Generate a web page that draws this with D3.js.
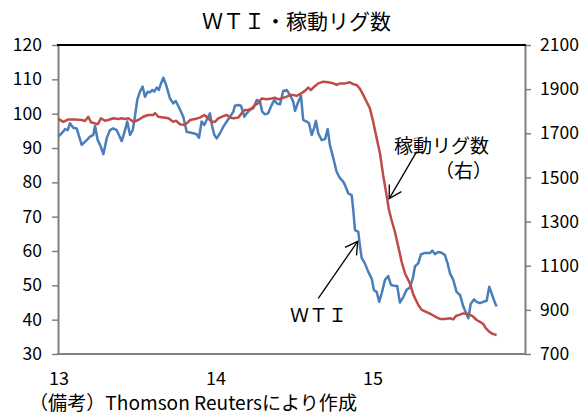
<!DOCTYPE html>
<html><head><meta charset="utf-8">
<script src="https://cdn.jsdelivr.net/npm/d3@7"></script>
<style>body{margin:0;background:#fff}</style>
</head><body>
<svg id="c" width="579" height="414"></svg>
<script>
const title = "ＷＴＩ・稼動リグ数";
const note = "（備考）Thomson Reutersにより作成";
const xTickValues = [13, 14, 15];
const xTickLabels = ["13", "14", "15"];
const leftTicks = [30, 40, 50, 60, 70, 80, 90, 100, 110, 120];
const rightTicks = [700, 900, 1100, 1300, 1500, 1700, 1900, 2100];
const wtiLabel = "ＷＴＩ";
const rigLabel1 = "稼動リグ数";
const rigLabel2 = "（右）";

// WTI (left axis), time in years (13 = 2013)
const wtiT = [13.002,13.024,13.045,13.062,13.076,13.097,13.119,13.151,13.183,13.204,
13.225,13.236,13.253,13.268,13.289,13.310,13.331,13.352,13.374,13.406,
13.427,13.441,13.459,13.476,13.490,13.505,13.522,13.539,13.554,13.571,
13.586,13.601,13.613,13.629,13.643,13.656,13.671,13.692,13.713,13.734,
13.750,13.771,13.798,13.820,13.841,13.862,13.883,13.898,13.915,13.932,
13.947,13.968,13.983,13.996,14.011,14.032,14.053,14.075,14.096,14.117,
14.127,14.148,14.166,14.187,14.202,14.223,14.244,14.266,14.287,14.301,
14.318,14.339,14.361,14.378,14.393,14.414,14.435,14.457,14.478,14.499,
14.510,14.527,14.548,14.562,14.584,14.599,14.616,14.631,14.643,14.658,
14.680,14.701,14.718,14.732,14.754,14.775,14.796,14.817,14.828,14.849,
14.871,14.881,14.892,14.913,14.924,14.935,14.955,14.976,14.998,15.013,
15.030,15.046,15.062,15.083,15.104,15.121,15.142,15.161,15.178,15.199,
15.221,15.242,15.261,15.274,15.295,15.312,15.333,15.355,15.369,15.385,
15.401,15.422,15.444,15.465,15.482,15.497,15.518,15.539,15.561,15.582,
15.599,15.614,15.629,15.650,15.667,15.688,15.709,15.731,15.747,15.762,
15.777,15.794];
const wtiV = [93.3,94.3,95.5,95.2,97.2,95.9,95.7,90.9,92.3,93.3,
93.8,96.4,92.3,90.9,88.2,92.8,95.2,95.7,95.2,92.0,
95.2,97.7,93.8,95.2,99.1,104.0,106.4,107.9,104.9,106.4,
106.2,106.9,106.4,107.6,106.9,108.8,110.5,107.9,104.5,103.0,
103.7,101.8,99.1,94.7,94.5,94.3,94.0,93.0,97.7,96.7,
98.2,100.1,96.2,93.8,92.8,94.3,96.2,97.7,99.1,100.6,
102.3,102.5,102.3,99.1,100.1,101.1,101.6,104.0,103.5,100.6,
99.8,100.1,102.5,104.0,103.0,102.7,106.6,106.9,105.4,103.5,
100.8,103.0,105.2,98.2,97.7,97.2,93.8,95.7,97.9,94.3,
92.3,92.6,95.5,90.9,87.0,83.1,81.2,80.2,79.2,76.8,
76.3,71.9,66.1,65.6,61.3,57.9,56.4,54.0,52.0,48.6,
48.1,45.2,47.7,51.6,52.7,50.1,49.9,49.8,45.0,46.5,
48.7,49.4,52.2,55.5,56.4,59.0,59.4,59.4,59.4,60.1,
59.1,59.7,59.5,58.8,56.4,53.5,51.6,48.1,47.2,43.8,
42.0,40.4,44.6,45.9,45.2,44.8,45.2,45.5,49.6,47.7,
45.7,43.8];

// Rig count (right axis)
const rigT = [13.002,13.034,13.066,13.108,13.151,13.172,13.193,13.210,13.236,13.253,
13.274,13.299,13.320,13.352,13.384,13.406,13.427,13.448,13.480,13.511,
13.543,13.575,13.607,13.618,13.639,13.671,13.703,13.734,13.752,13.777,
13.798,13.820,13.841,13.873,13.904,13.932,13.957,13.979,14.000,14.021,
14.053,14.075,14.096,14.117,14.148,14.170,14.191,14.212,14.234,14.255,
14.276,14.297,14.329,14.361,14.382,14.403,14.425,14.457,14.478,14.499,
14.520,14.541,14.573,14.594,14.611,14.632,14.658,14.690,14.722,14.754,
14.775,14.796,14.828,14.860,14.881,14.903,14.924,14.945,14.966,14.987,
15.008,15.030,15.051,15.072,15.094,15.108,15.125,15.146,15.168,15.189,
15.210,15.242,15.263,15.295,15.317,15.348,15.380,15.412,15.433,15.465,
15.497,15.518,15.535,15.556,15.582,15.614,15.641,15.667,15.688,15.709,
15.726,15.747,15.769,15.794];
const rigV = [1765,1752,1763,1763,1760,1756,1775,1750,1745,1741,
1768,1757,1760,1768,1765,1768,1765,1768,1752,1760,
1775,1783,1783,1791,1775,1772,1768,1752,1757,1741,
1738,1745,1760,1765,1771,1783,1768,1752,1752,1768,
1778,1783,1771,1768,1771,1791,1806,1806,1813,1828,
1836,1858,1854,1858,1861,1854,1858,1866,1873,1873,
1870,1877,1892,1907,1896,1911,1926,1934,1931,1926,
1919,1926,1926,1931,1922,1919,1901,1873,1843,1813,
1752,1677,1610,1507,1416,1355,1307,1254,1186,1118,
1066,1020,970,922,900,890,879,866,859,859,
862,857,872,877,884,881,872,854,846,836,
816,801,791,786];

const FONT = "'Noto Sans CJK JP','Noto Sans',sans-serif";
const svg = d3.select("#c");
const L = 58, R = 525, T = 45, B = 354;

const x = d3.scaleLinear().domain([13, 15.975]).range([L, R]);
const yL = d3.scaleLinear().domain([30, 120]).range([B, T]);
const yR = d3.scaleLinear().domain([700, 2100]).range([B, T]);

// Axes
const gL = svg.append("g").attr("transform", `translate(${L},0)`)
  .call(d3.axisLeft(yL).tickValues(leftTicks).tickFormat(d3.format("d"))
    .tickSize(6).tickSizeOuter(0).tickPadding(10));
const gR = svg.append("g").attr("transform", `translate(${R},0)`)
  .call(d3.axisRight(yR).tickValues(rightTicks).tickFormat(d3.format("d"))
    .tickSize(6).tickSizeOuter(0).tickPadding(9));
[gL, gR].forEach(g => {
  g.select(".domain").attr("stroke", "#808080").attr("stroke-width", 2);
  g.selectAll(".tick line").attr("stroke", "#808080").attr("stroke-width", 1.5);
  g.selectAll(".tick text").attr("font-family", FONT).attr("font-size", 17.5).attr("fill", "#000");
});
// bottom axis line
svg.append("line").attr("x1", L - 1).attr("x2", R + 1).attr("y1", B).attr("y2", B)
  .attr("stroke", "#808080").attr("stroke-width", 2);
// top border
svg.append("line").attr("x1", L - 1).attr("x2", R + 1).attr("y1", T).attr("y2", T)
  .attr("stroke", "#000").attr("stroke-width", 2);

svg.append("g").selectAll("text").data(xTickValues).join("text")
  .attr("x", d => x(d) + 1).attr("y", 385)
  .attr("text-anchor", "middle").attr("font-family", FONT).attr("font-size", 18)
  .text((d, i) => xTickLabels[i]);

// Lines
const lineL = d3.line().x(d => x(d[0])).y(d => yL(d[1]));
const lineR = d3.line().x(d => x(d[0])).y(d => yR(d[1]));
svg.append("path").datum(d3.zip(wtiT, wtiV)).attr("d", lineL)
  .attr("fill", "none").attr("stroke", "#4A7EBB").attr("stroke-width", 2.5)
  .attr("stroke-linejoin", "round");
svg.append("path").datum(d3.zip(rigT, rigV)).attr("d", lineR)
  .attr("fill", "none").attr("stroke", "#BE4B48").attr("stroke-width", 2.5)
  .attr("stroke-linejoin", "round");

// Title
svg.append("text").attr("x", 202).attr("y", 28.5)
  .attr("font-family", FONT).attr("font-size", 21).text(title);

// Note
svg.append("text").attr("x", 29).attr("y", 410)
  .attr("font-family", FONT).attr("font-size", 19)
  .attr("textLength", 328).attr("lengthAdjust", "spacingAndGlyphs").text(note);

// Annotations
function arrow(x1, y1, x2, y2) {
  const g = svg.append("g").attr("stroke", "#000").attr("stroke-width", 1.3).attr("fill", "none");
  g.append("line").attr("x1", x1).attr("y1", y1).attr("x2", x2).attr("y2", y2);
  const a = Math.atan2(y1 - y2, x1 - x2), len = 14, h = Math.PI / 6;
  g.append("path").attr("d",
    `M${x2 + len * Math.cos(a - h)},${y2 + len * Math.sin(a - h)}L${x2},${y2}L${x2 + len * Math.cos(a + h)},${y2 + len * Math.sin(a + h)}`);
}
arrow(x(15.285), yR(1617), x(15.110), yR(1404));
arrow(x(14.658), yL(46.2), x(14.909), yL(62.8));

svg.append("text").attr("x", 394).attr("y", 153).attr("font-family", FONT).attr("font-size", 19).text(rigLabel1);
svg.append("text").attr("x", 435).attr("y", 178).attr("font-family", FONT).attr("font-size", 19).text(rigLabel2);
svg.append("text").attr("x", 290).attr("y", 321.5).attr("font-family", FONT).attr("font-size", 19).text(wtiLabel);
</script>
</body></html>
